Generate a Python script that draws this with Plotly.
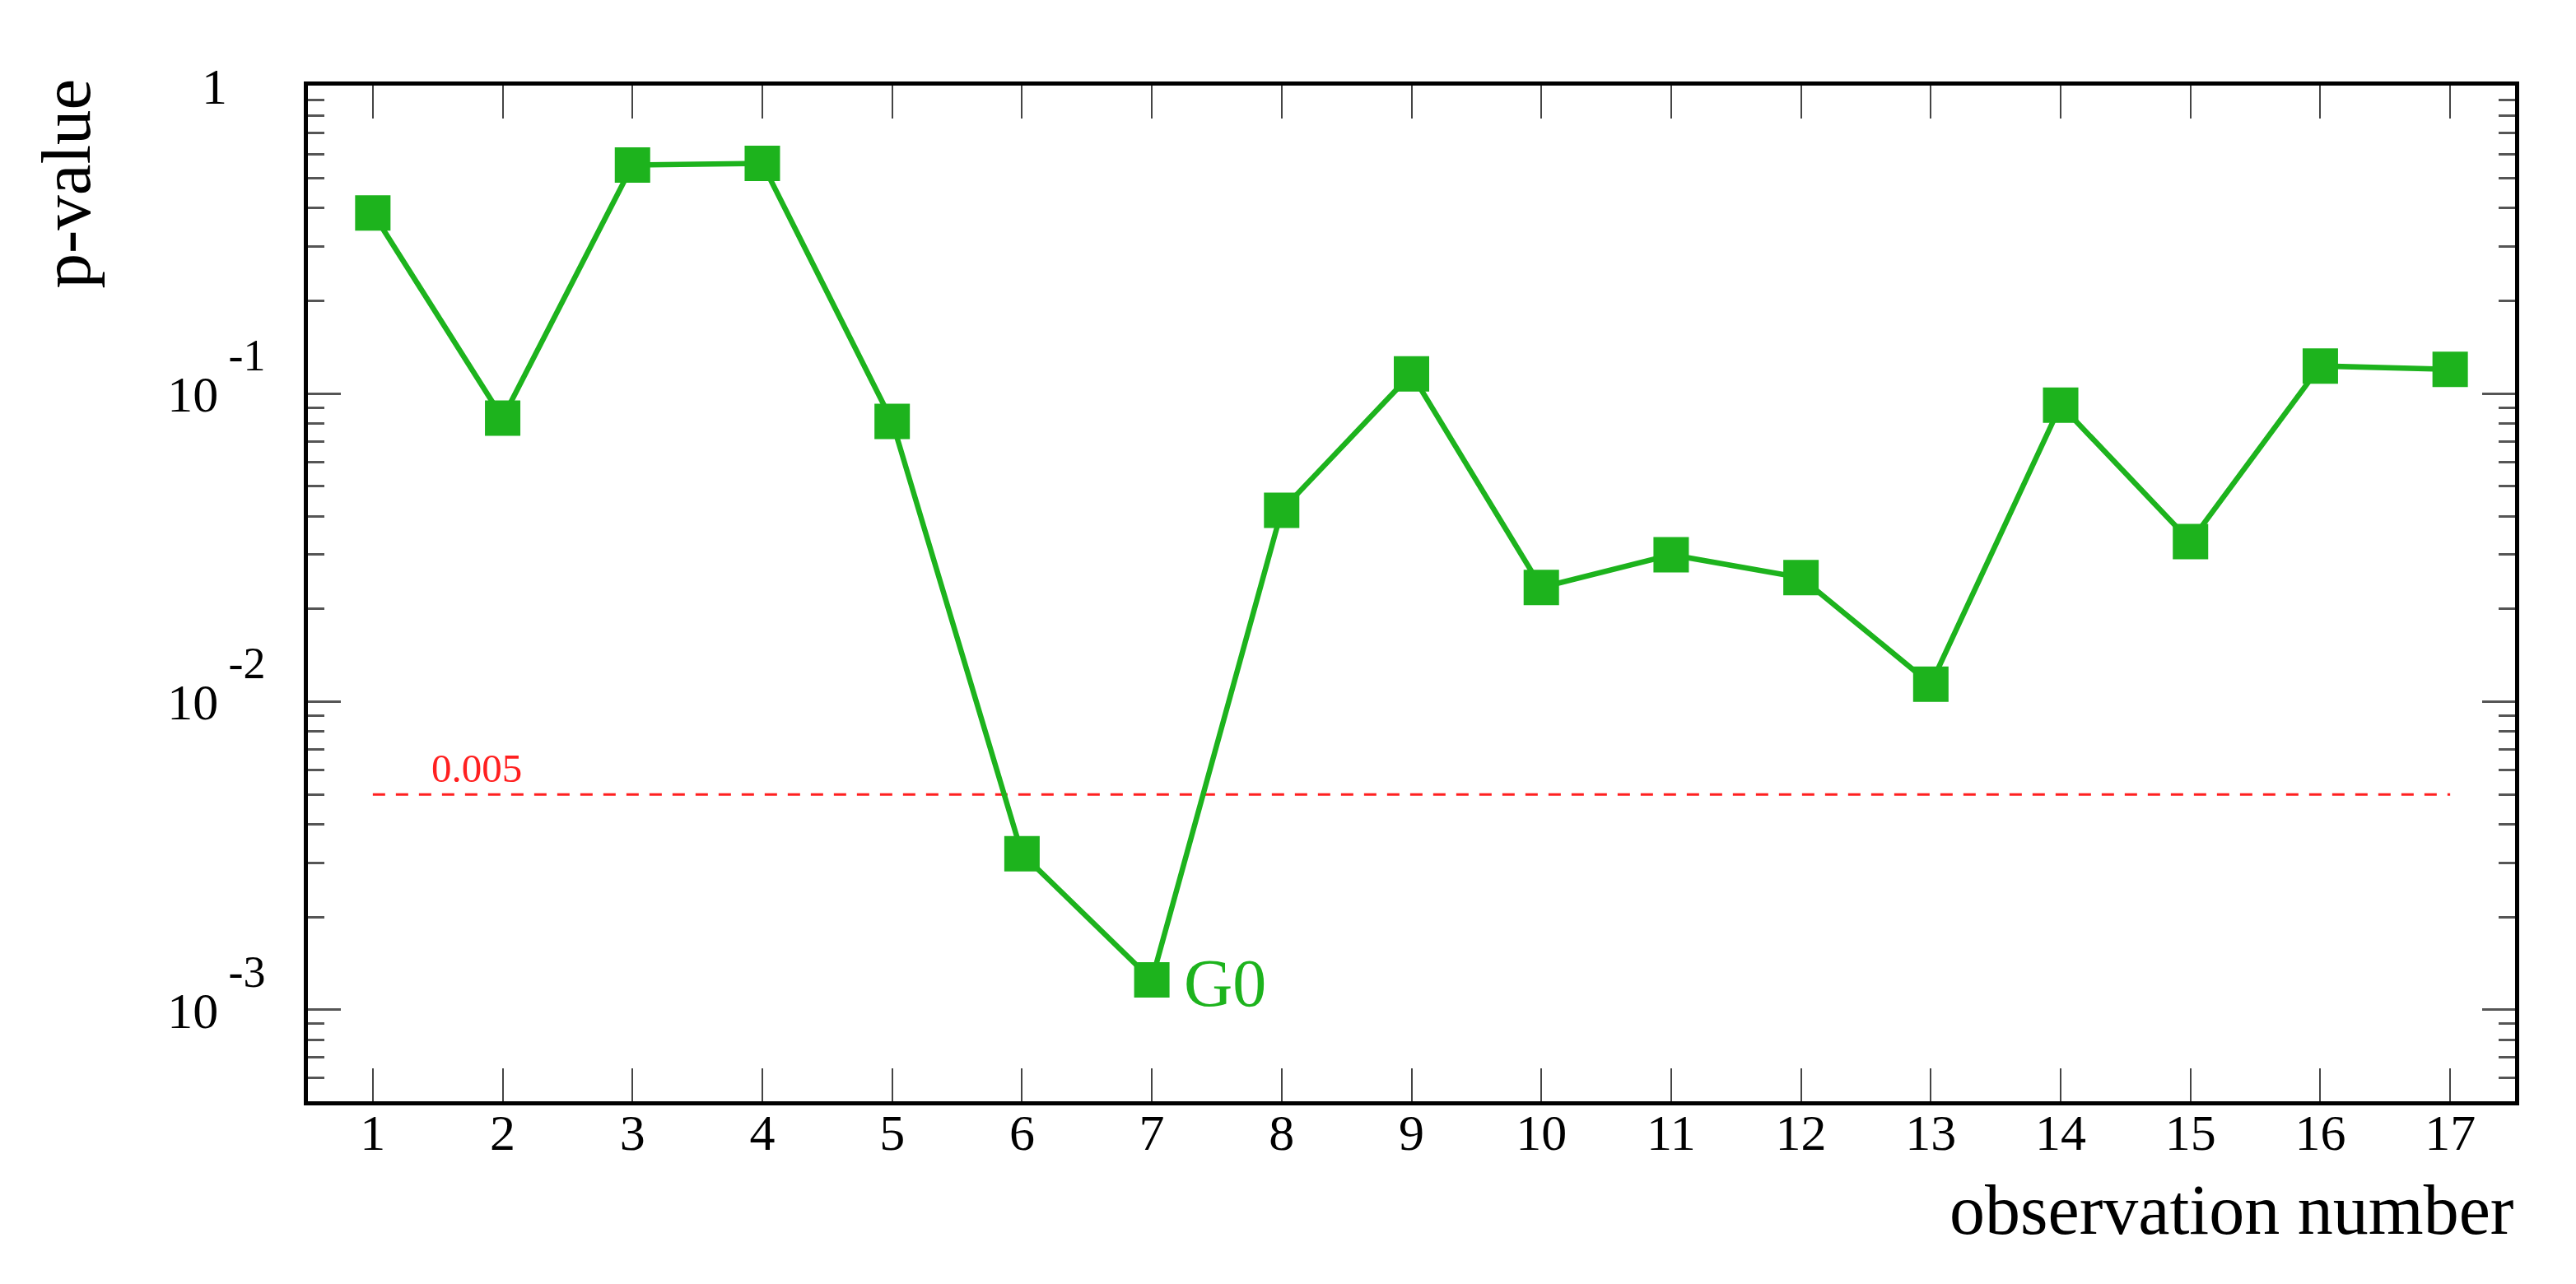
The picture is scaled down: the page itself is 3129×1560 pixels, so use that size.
import math
import plotly.graph_objects as go

# Dados (p-value por observação)
observacao = list(range(1, 18))
p_value = [0.386, 0.0833, 0.552, 0.559, 0.0813, 0.00321, 0.00125, 0.0418, 0.116,
           0.0235, 0.0300, 0.0253, 0.0114, 0.0918, 0.0331, 0.123, 0.120]

limiar = 0.005
limiar_x = [1, 17]
limiar_rotulo = '0.005'

destaque_obs = 7
destaque_rotulo = 'G0'

y_tickvals = [1e-3, 1e-2, 1e-1, 1]
expoentes = ['-3', '-2', '-1']
SUP = '<span style="font-size:54px;baseline-shift:50px">{}</span>'
y_ticktext = ['10\u2009' + SUP.format(e) for e in expoentes] + ['1' + '\u00a0' * 3]

VERDE = '#1db31d'
VERMELHO = '#ff2020'
FONTE = 'Liberation Serif'

fig = go.Figure()

# Linha tracejada do limiar
fig.add_trace(go.Scatter(
    x=limiar_x,
    y=[limiar] * len(limiar_x),
    mode='lines',
    line={'color': VERMELHO, 'width': 3, 'dash': '15px,13px'},
    hoverinfo='skip'
))

# Série principal
fig.add_trace(go.Scatter(
    x=observacao,
    y=p_value,
    mode='lines+markers',
    line={'color': VERDE, 'width': 6.5},
    marker={'symbol': 'square', 'size': 43, 'color': VERDE, 'line': {'width': 0}}
))

minor_vals = [k * 10 ** e for e in (-4, -3, -2, -1) for k in range(2, 10)]

fig.update_layout(
    width=3129,
    height=1560,
    plot_bgcolor='white',
    paper_bgcolor='white',
    showlegend=False,
    margin={'l': 366, 'r': 82, 't': 96, 'b': 230},
    font={'family': FONTE, 'color': 'black', 'size': 60},

    xaxis={
        'range': [0.5, 17.5],
        'tickmode': 'array',
        'tickvals': observacao,
        'ticks': 'inside',
        'ticklen': 40,
        'tickwidth': 2,
        'tickcolor': '#444444',
        'showline': True,
        'linecolor': 'black',
        'linewidth': 5,
        'mirror': 'ticks',
        'showgrid': False,
        'zeroline': False,
        'tickfont': {'size': 62},
        'ticklabelstandoff': -20,
    },

    yaxis={
        'type': 'log',
        'range': [-3.297, 0],
        'tickmode': 'array',
        'tickvals': y_tickvals,
        'ticktext': y_ticktext,
        'ticks': 'inside',
        'ticklen': 40,
        'tickwidth': 3,
        'tickcolor': '#555555',
        'minor': {'tickmode': 'array', 'tickvals': minor_vals, 'ticks': 'inside',
                  'ticklen': 20, 'tickwidth': 3, 'tickcolor': '#555555', 'showgrid': False},
        'showline': True,
        'linecolor': 'black',
        'linewidth': 5,
        'mirror': 'ticks',
        'showgrid': False,
        'zeroline': False,
        'tickfont': {'size': 62},
        'ticklabelstandoff': 34,
    },
)

# Títulos dos eixos (estilo ROOT: alinhados ao canto)
fig.add_annotation(
    text='observation number', xref='paper', yref='paper', x=1, y=0,
    xanchor='right', yanchor='top', yshift=-82, showarrow=False,
    font={'size': 86, 'family': FONTE, 'color': 'black'}
)
fig.add_annotation(
    text='p-value', xref='paper', yref='paper', x=-0.110, y=1,
    xanchor='center', yanchor='top', yshift=10, textangle=-90, showarrow=False,
    font={'size': 85, 'family': FONTE, 'color': 'black'}
)

# Rótulo do limiar (eixo log: posição em log10)
fig.add_annotation(
    text=limiar_rotulo, x=1.44, y=math.log10(limiar), yref='y', xref='x',
    xanchor='left', yanchor='bottom', yshift=2, showarrow=False,
    font={'size': 49, 'family': FONTE, 'color': VERMELHO}
)

# Rótulo do ponto destacado
p_destaque = p_value[observacao.index(destaque_obs)]
fig.add_annotation(
    text=destaque_rotulo, x=destaque_obs, y=math.log10(p_destaque),
    xref='x', yref='y', xanchor='left', yanchor='middle', xshift=37, yshift=-4,
    showarrow=False, font={'size': 82, 'family': FONTE, 'color': VERDE}
)

fig.write_html('out.html')
